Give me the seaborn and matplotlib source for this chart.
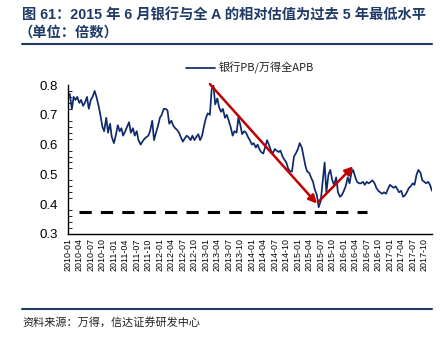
import matplotlib
matplotlib.use("Agg")
import matplotlib.pyplot as plt
from matplotlib.ticker import MultipleLocator
import seaborn as sns
import pandas as pd

# ---------------- data ----------------
series_label = "银行PB/万得全APB"
start_date = "2010-01-04"
# semi-monthly readings of the ratio (two per month, Jan 2010 - Dec 2017)
ratio_values = [
    0.77, 0.72, 0.76, 0.75, 0.76, 0.74, 0.75, 0.73, 0.74, 0.76,
    0.72, 0.75, 0.76, 0.78, 0.76, 0.73, 0.70, 0.66, 0.645, 0.69,
    0.64, 0.67, 0.625, 0.605, 0.63, 0.665, 0.645, 0.655, 0.63, 0.645,
    0.66, 0.675, 0.64, 0.655, 0.63, 0.645, 0.615, 0.60, 0.61, 0.62,
    0.625, 0.63, 0.645, 0.68, 0.615, 0.64, 0.66, 0.69, 0.70, 0.72,
    0.72, 0.715, 0.67, 0.68, 0.665, 0.655, 0.65, 0.64, 0.625, 0.61,
    0.62, 0.63, 0.625, 0.615, 0.63, 0.615, 0.625, 0.635, 0.615, 0.63,
    0.66, 0.69, 0.705, 0.70, 0.785, 0.80, 0.735, 0.755, 0.725, 0.71,
    0.72, 0.69, 0.70, 0.68, 0.66, 0.63, 0.645, 0.64, 0.69, 0.665,
    0.635, 0.645, 0.64, 0.625, 0.615, 0.60, 0.605, 0.59, 0.60, 0.585,
    0.575, 0.57, 0.59, 0.615, 0.60, 0.58, 0.57, 0.585, 0.58, 0.575,
    0.58, 0.56, 0.55, 0.54, 0.52, 0.51, 0.51, 0.56, 0.57, 0.585,
    0.605, 0.59, 0.56, 0.53, 0.51, 0.505, 0.49, 0.475, 0.45, 0.43,
    0.39, 0.41, 0.47, 0.54, 0.44, 0.50, 0.515, 0.48, 0.465, 0.49,
    0.44, 0.425, 0.43, 0.445, 0.46, 0.49, 0.47, 0.505, 0.515, 0.49,
    0.475, 0.47, 0.47, 0.475, 0.465, 0.475, 0.47, 0.475, 0.48, 0.47,
    0.455, 0.445, 0.44, 0.435, 0.44, 0.435, 0.45, 0.465, 0.46, 0.455,
    0.46, 0.45, 0.44, 0.445, 0.425, 0.43, 0.44, 0.455, 0.46, 0.47,
    0.465, 0.50, 0.515, 0.505, 0.48, 0.475, 0.47, 0.475, 0.465, 0.445,
    0.46, 0.48,
]
tick_labels = [f"{y}-{m:02d}" for y in range(2010, 2018) for m in (1, 4, 7, 10)]
x_limits = ("2010-01-01", "2017-12-01")
y_limits = (0.3, 0.8)
y_ticks = [0.3, 0.4, 0.5, 0.6, 0.7, 0.8]
# red arrows: (start date, start value) -> (end date, end value)
arrow_down = (("2013-02-01", 0.803), ("2015-06-01", 0.402))
arrow_up = (("2015-06-10", 0.407), ("2016-03-15", 0.527))
# dashed reference line
ref_level = 0.375
ref_span = ("2010-04-01", "2016-07-01")

title_line1 = "图 61：2015 年 6 月银行与全 A 的相对估值为过去 5 年最低水平"
title_line2 = "（单位：倍数）"
source_text = "资料来源：万得，信达证券研发中心"

# ---------------- figure ----------------
sns.set_style("white")
plt.rcParams["font.family"] = ["Liberation Sans", "Noto Sans CJK SC", "DejaVu Sans"]

navy = "#0d2a6b"
title_col = "#1f3a66"

dates = pd.date_range(start_date, periods=len(ratio_values), freq="SMS")
df = pd.DataFrame({"date": dates, "value": ratio_values})

fig = plt.figure(figsize=(4.47, 3.43), dpi=100)
ax = fig.add_axes([68 / 447, 1 - 234 / 343, 364 / 447, 149 / 343])

sns.lineplot(data=df, x="date", y="value", ax=ax, color=navy, linewidth=1.25,
             label=series_label)

ax.set_xlim(pd.Timestamp(x_limits[0]), pd.Timestamp(x_limits[1]))
ax.set_ylim(*y_limits)

tick_dates = [pd.Timestamp(t + "-01") for t in tick_labels]
ax.set_xticks(tick_dates)
ax.set_xticklabels(tick_labels, rotation=90, fontsize=6.4,
                   family=["Liberation Sans"])
ax.set_yticks(y_ticks)
ax.set_yticklabels([f"{v:.1f}" for v in y_ticks], fontsize=9.5,
                   family=["Liberation Sans"])
ax.yaxis.set_minor_locator(MultipleLocator(0.02))
ax.tick_params(axis="x", which="major", direction="in", length=4, width=0.8,
               colors="black", pad=3)
ax.tick_params(axis="y", which="major", direction="in", length=4, width=0.8,
               colors="black", pad=7)
ax.tick_params(axis="y", which="minor", direction="in", length=3, width=0.7,
               left=True)
ax.set_xlabel("")
ax.set_ylabel("")
for s in ("top", "right"):
    ax.spines[s].set_visible(False)
for s in ("left", "bottom"):
    ax.spines[s].set_color("black")
    ax.spines[s].set_linewidth(1.0)

# dashed reference line
ax.hlines(ref_level, pd.Timestamp(ref_span[0]), pd.Timestamp(ref_span[1]),
          colors="black", linestyles=(0, (4, 3)), linewidth=2.2)

# red arrows
for (s, e) in (arrow_down, arrow_up):
    ax.annotate("", xy=(pd.Timestamp(e[0]), e[1]),
                xytext=(pd.Timestamp(s[0]), s[1]),
                arrowprops=dict(arrowstyle="-|>", color="#c00000", lw=1.8,
                                mutation_scale=12, shrinkA=0, shrinkB=0))

leg = ax.legend(loc="center left", bbox_to_anchor=(0.325, 1.115), frameon=False,
                handlelength=2.6, handletextpad=0.35, borderaxespad=0,
                borderpad=0, prop={"family": ["Noto Sans CJK SC"], "size": 8})
for t in leg.get_texts():
    t.set_color("#222222")

# title and decorations
fig.text(22 / 447, 1 - 15 / 343, title_line1, fontsize=10.3, fontweight="bold",
         color=title_col, va="center", ha="left",
         family=["Liberation Sans", "Noto Sans CJK SC"])
fig.text(18 / 447, 1 - 33 / 343, title_line2, fontsize=10.3, fontweight="bold",
         color=title_col, va="center", ha="left",
         family=["Noto Sans CJK SC"])
fig.add_artist(plt.Line2D([22 / 447, 432 / 447], [1 - 44 / 343, 1 - 44 / 343],
                          color=title_col, lw=1.5))
fig.add_artist(plt.Line2D([22 / 447, 432 / 447], [1 - 309 / 343, 1 - 309 / 343],
                          color=title_col, lw=1.5))
fig.text(22 / 447, 1 - 322 / 343, source_text, fontsize=8, color="#222222",
         va="center", ha="left", family=["Noto Sans CJK SC"], style="italic")

fig.savefig("out.png", dpi=100)
